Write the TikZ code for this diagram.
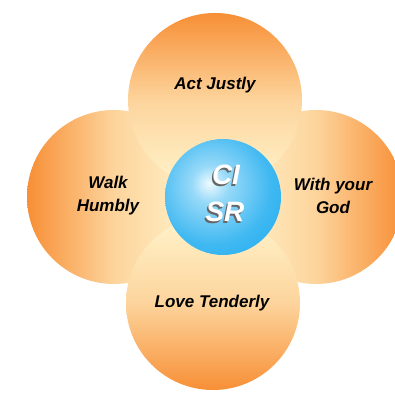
\documentclass[tikz,border=0pt]{standalone}
\usepackage{fontspec}
\setmainfont{Liberation Sans}
\definecolor{petalout}{HTML}{F78F36}
\definecolor{petalmid}{HTML}{FDD49C}
\definecolor{petalin}{HTML}{FFF4CC}
\definecolor{hubin}{HTML}{EEFAFF}
\definecolor{hubout}{HTML}{14A8EE}
\pgfdeclareradialshading{hubshade}{\pgfpoint{-6bp}{6bp}}{%
  color(0bp)=(hubin); color(8bp)=(hubin!60!hubout); color(25bp)=(hubout!80!hubin); color(45bp)=(hubout); color(100bp)=(hubout)}
\tikzset{
  petallabel/.style={font=\fontsize{17}{23}\selectfont\bfseries\itshape, text=black, align=center, inner sep=0pt},
  hubtext/.style={font=\fontsize{28}{30}\selectfont\bfseries\itshape, inner sep=0pt},
}
\begin{document}
\begin{tikzpicture}[x=1pt,y=1pt]
\useasboundingbox (0,0) rectangle (395,395);
\clip (0,0) rectangle (395,395);
% petals
\shade[left color=petalout, right color=petalin, middle color=petalmid] (114,198) circle (87);
\shade[right color=petalout, left color=petalin, middle color=petalmid] (316,198) circle (87);
\shade[top color=petalout, bottom color=petalin, middle color=petalmid] (215,295) circle (87);
\shade[bottom color=petalout, top color=petalin, middle color=petalmid] (213,92) circle (87);
% hub
\shade[shading=hubshade] (223,198) circle (58);
% labels
\node[petallabel] (act) at (215,310) {Act Justly};
\node[petallabel] (walk) at (108,199) {Walk\\Humbly};
\node[petallabel] (with) at (333,199) {With your\\God};
\node[petallabel] (love) at (212,92) {Love Tenderly};
% hub text with shadow
\node[hubtext, text=black!60] (cishadow) at (224.5,218.5) {CI};
\node[hubtext, text=white] (ci) at (226,220) {CI};
\node[hubtext, text=black!60] (srshadow) at (223.5,181.5) {SR};
\node[hubtext, text=white] (sr) at (225,183) {SR};
\end{tikzpicture}
\end{document}
